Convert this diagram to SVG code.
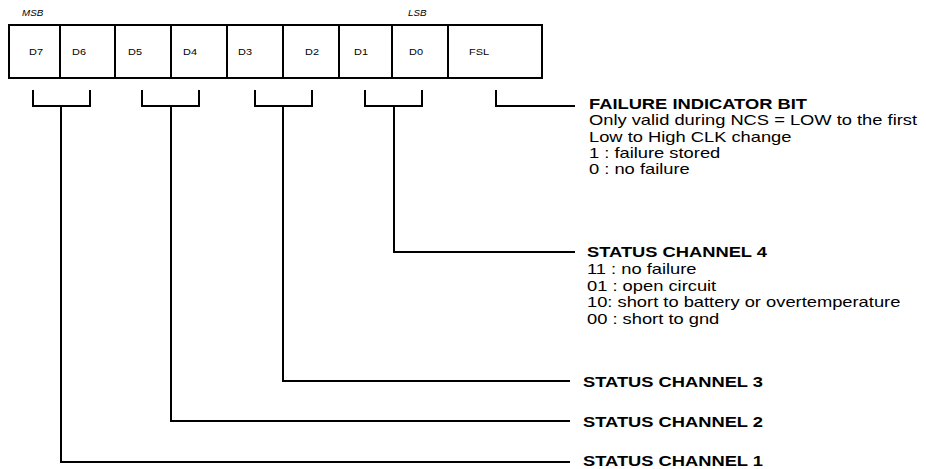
<svg xmlns="http://www.w3.org/2000/svg" width="926" height="469" viewBox="0 0 926 469">
<style>
  .cell { fill: #fff; stroke: #000; stroke-width: 2; }
  .bit { font-family: "Liberation Sans", Arial, sans-serif; font-size: 9.5px; fill: #000; }
  .tag { font-family: "Liberation Sans", Arial, sans-serif; font-size: 8.5px; font-style: italic; fill: #000; }
  .head { font-family: "Liberation Sans", Arial, sans-serif; font-size: 14.2px; font-weight: bold; fill: #000; }
  .body { font-family: "Liberation Sans", Arial, sans-serif; font-size: 14.2px; fill: #000; }
  .wire { fill: none; stroke: #000; stroke-width: 2; }
</style>
<rect width="926" height="469" fill="#fff"/>

<g id="markers">
  <text class="tag" transform="translate(22,16) scale(1.15,1)">MSB</text>
  <text class="tag" transform="translate(408,16) scale(1.15,1)">LSB</text>
</g>

<g id="register">
  <g id="bit-D7"><rect class="cell" x="9" y="25" width="51" height="53"/><text class="bit" transform="translate(29,55) scale(1.15,1)">D7</text></g>
  <g id="bit-D6"><rect class="cell" x="60" y="25" width="55" height="53"/><text class="bit" transform="translate(72,55) scale(1.15,1)">D6</text></g>
  <g id="bit-D5"><rect class="cell" x="115" y="25" width="56" height="53"/><text class="bit" transform="translate(128,55) scale(1.15,1)">D5</text></g>
  <g id="bit-D4"><rect class="cell" x="171" y="25" width="56" height="53"/><text class="bit" transform="translate(183,55) scale(1.15,1)">D4</text></g>
  <g id="bit-D3"><rect class="cell" x="227" y="25" width="56" height="53"/><text class="bit" transform="translate(238,55) scale(1.15,1)">D3</text></g>
  <g id="bit-D2"><rect class="cell" x="283" y="25" width="56" height="53"/><text class="bit" transform="translate(305,55) scale(1.15,1)">D2</text></g>
  <g id="bit-D1"><rect class="cell" x="339" y="25" width="53" height="53"/><text class="bit" transform="translate(354,55) scale(1.15,1)">D1</text></g>
  <g id="bit-D0"><rect class="cell" x="392" y="25" width="56" height="53"/><text class="bit" transform="translate(409,55) scale(1.15,1)">D0</text></g>
  <g id="bit-FSL"><rect class="cell" x="448" y="25" width="94" height="53"/><text class="bit" transform="translate(469,55) scale(1.15,1)">FSL</text></g>
</g>

<g id="connectors">
  <path class="wire" d="M33,90 V106 H90 V90 M61,106 V462 H570"/>
  <path class="wire" d="M142,90 V106 H199 V90 M171,106 V421 H570"/>
  <path class="wire" d="M255,90 V106 H312 V90 M283,106 V381 H570"/>
  <path class="wire" d="M365,90 V106 H422 V90 M394,106 V252 H575"/>
  <path class="wire" d="M496,90 V106 H575"/>
</g>

<g id="failure-indicator">
  <text class="head" transform="translate(589,109) scale(1.29,1)">FAILURE INDICATOR BIT</text>
  <text class="body" transform="translate(589,125.3) scale(1.29,1)">Only valid during NCS = LOW to the first</text>
  <text class="body" transform="translate(589,141.6) scale(1.29,1)">Low to High CLK change</text>
  <text class="body" transform="translate(589,157.9) scale(1.29,1)">1 : failure stored</text>
  <text class="body" transform="translate(589,174.2) scale(1.29,1)">0 : no failure</text>
</g>

<g id="status-channel-4">
  <text class="head" transform="translate(587,257) scale(1.29,1)">STATUS CHANNEL 4</text>
  <text class="body" transform="translate(587,273.8) scale(1.29,1)">11 : no failure</text>
  <text class="body" transform="translate(587,290.6) scale(1.29,1)">01 : open circuit</text>
  <text class="body" transform="translate(587,307.4) scale(1.29,1)">10: short to battery or overtemperature</text>
  <text class="body" transform="translate(587,324.2) scale(1.29,1)">00 : short to gnd</text>
</g>

<g id="status-channel-3">
  <text class="head" transform="translate(583,386.5) scale(1.29,1)">STATUS CHANNEL 3</text>
</g>
<g id="status-channel-2">
  <text class="head" transform="translate(583,426.5) scale(1.29,1)">STATUS CHANNEL 2</text>
</g>
<g id="status-channel-1">
  <text class="head" transform="translate(583,466) scale(1.29,1)">STATUS CHANNEL 1</text>
</g>
</svg>
